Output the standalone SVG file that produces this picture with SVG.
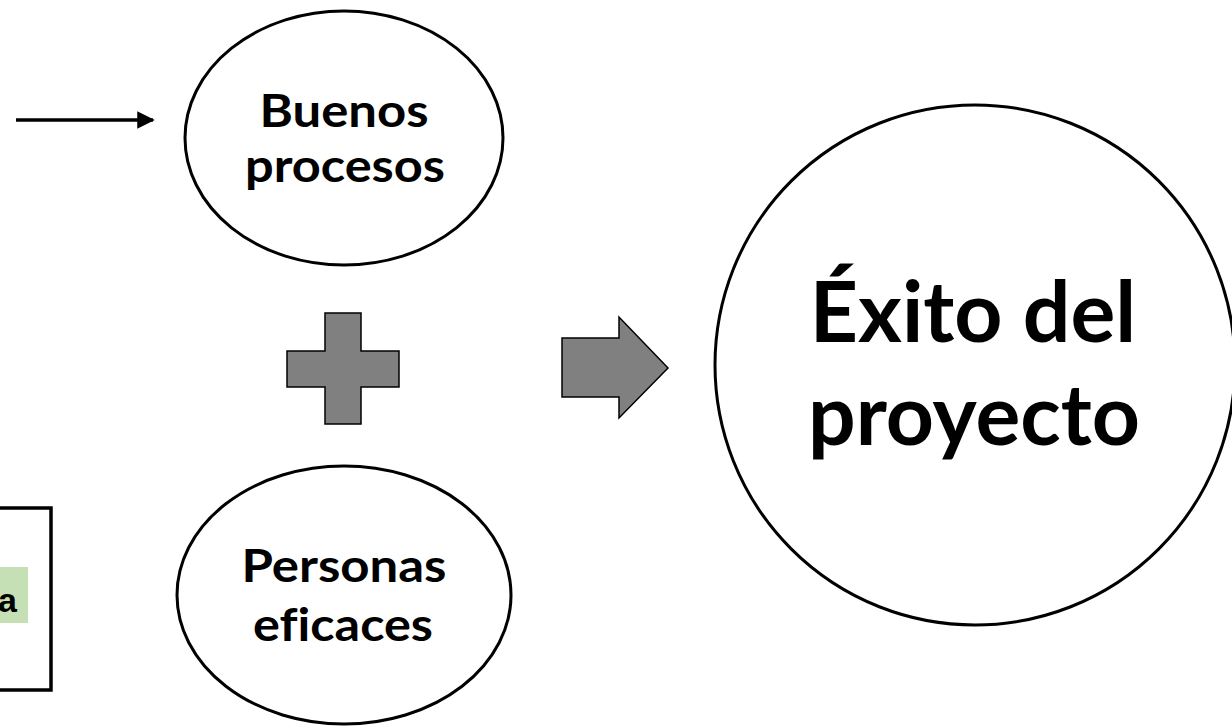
<svg xmlns="http://www.w3.org/2000/svg" width="1232" height="726" viewBox="0 0 1232 726">
<style>
.node{fill:#fff;stroke:#000;stroke-width:3}
.t{font-family:Lato,"Liberation Sans",sans-serif;font-weight:bold;fill:#000;text-anchor:middle;font-variant-ligatures:none}
.s{font-size:45px}
.b{font-size:84px}
.lbl{font-family:"Liberation Sans",Arial,sans-serif;font-weight:bold;font-size:34px;fill:#000;text-anchor:end}
.shape{fill:#808080;stroke:#000;stroke-width:1.5;stroke-linejoin:miter}
</style>
<defs>
<marker id="ah" markerWidth="5" markerHeight="5" refX="4.5" refY="2.5" orient="auto" markerUnits="strokeWidth">
<path d="M0,0 L5,2.5 L0,5 Z" fill="#000"/>
</marker>
</defs>
<rect width="1232" height="726" fill="#fff"/>
<g id="box">
<rect x="-20" y="508" width="71" height="182" fill="#fff" stroke="#000" stroke-width="3.5"/>
<rect x="-10" y="567" width="38" height="56" fill="#C5E0B4"/>
<text class="lbl" x="17" y="612">a</text>
</g>
<g id="connectors">
<line x1="16" y1="120" x2="153" y2="120" stroke="#000" stroke-width="3.5" marker-end="url(#ah)"/>
</g>
<g id="buenos">
<ellipse class="node" cx="344" cy="138" rx="159" ry="127"/>
<text class="t s" x="344" y="127" textLength="169" lengthAdjust="spacingAndGlyphs">Buenos</text>
<text class="t s" x="345" y="182" textLength="200" lengthAdjust="spacingAndGlyphs">procesos</text>
</g>
<g id="personas">
<ellipse class="node" cx="344" cy="595" rx="167" ry="129"/>
<text class="t s" x="344" y="582" textLength="205" lengthAdjust="spacingAndGlyphs">Personas</text>
<text class="t s" x="343" y="641" textLength="180" lengthAdjust="spacingAndGlyphs">eficaces</text>
</g>
<g id="plus">
<path class="shape" d="M325,313 H361 V351 H399 V387 H361 V424 H325 V387 H287 V351 H325 Z"/>
</g>
<g id="bigarrow">
<path class="shape" d="M562,338 H619 V317 L668,368 L619,418 V397 H562 Z"/>
</g>
<g id="exito">
<circle class="node" cx="975" cy="365" r="260"/>
<text class="t b" x="973" y="342">Éxito del</text>
<text class="t b" x="974" y="445">proyecto</text>
</g>
</svg>
